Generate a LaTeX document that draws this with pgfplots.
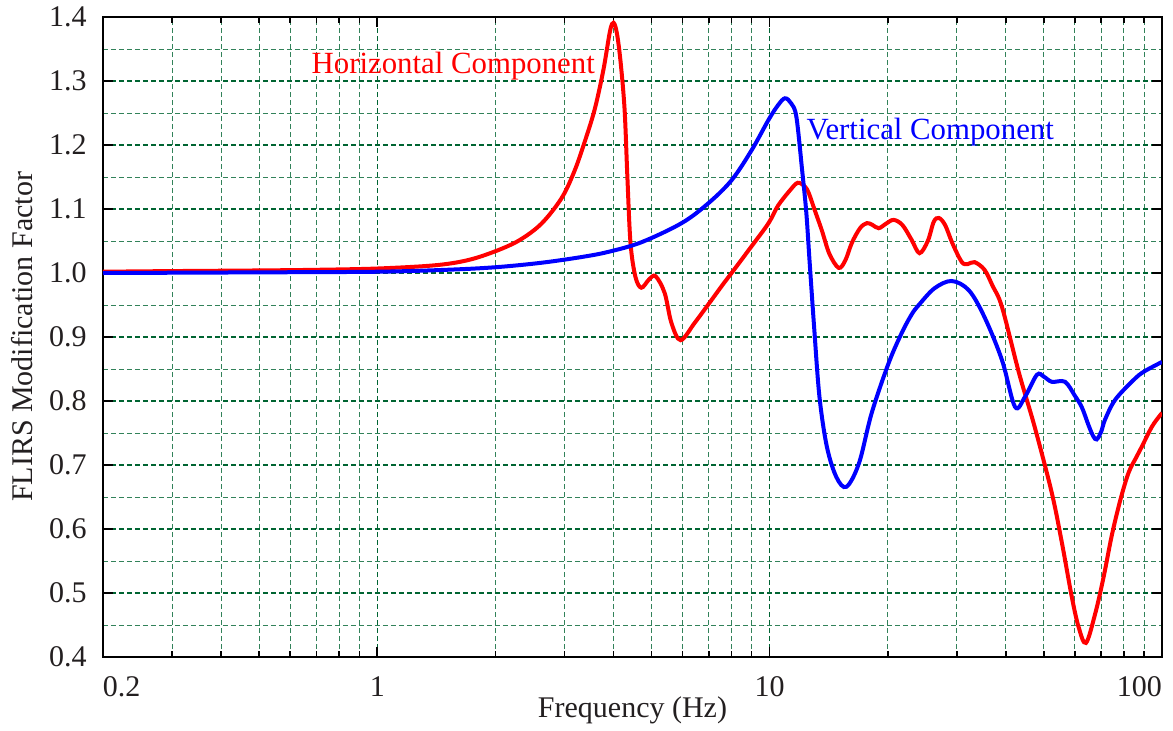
\documentclass[border=0pt]{standalone}
\usepackage{fontspec}
\setmainfont{Liberation Serif}
\usepackage{pgfplots}
\pgfplotsset{compat=1.18}
\definecolor{majgrid}{RGB}{0,100,50}
\definecolor{mingrid}{RGB}{50,130,90}
\definecolor{textcol}{RGB}{35,31,32}
\begin{document}
\fontsize{15}{18}\selectfont
\begin{tikzpicture}
\begin{semilogxaxis}[
  scale only axis, width=529.5pt, height=320pt,
  at={(0,0)}, anchor=south west,
  xmin=0.2, xmax=100, ymin=0.4, ymax=1.4,
  xtick={0.2,1,10,100},
  xticklabels={\rlap{0.2},1,10,\llap{100}},
  minor xtick={0.3,0.4,0.5,0.6,0.7,0.8,0.9,2,3,4,5,6,7,8,9,20,30,40,50,60,70,80,90},
  ytick={0.4,0.5,0.6,0.7,0.8,0.9,1.0,1.1,1.2,1.3,1.4},
  yticklabels={0.4,0.5,0.6,0.7,0.8,0.9,1.0,1.1,1.2,1.3,1.4},
  minor ytick={0.45,0.55,0.65,0.75,0.85,0.95,1.05,1.15,1.25,1.35},
  grid=both,
  major grid style={majgrid, dash pattern=on 2.5pt off 1.5pt, line width=0.6pt},
  minor grid style={mingrid, dash pattern=on 2.5pt off 1.5pt, line width=0.5pt},
  tick align=inside,
  major tick length=5pt, minor tick length=3pt,
  tick style={black, line width=0.8pt},
  minor y tick style={draw=none},
  axis line style={line width=1pt},
  yticklabel style={xshift=-3pt, text=textcol, font=\rmfamily},
  xticklabel style={anchor=base, yshift=-19.5pt, text=textcol, font=\rmfamily},
  xlabel={Frequency (Hz)},
  ylabel={FLIRS Modification Factor},
  every axis x label/.style={at={(axis description cs:0.5,0)}, yshift=-30pt, anchor=base, text=textcol},
  every axis y label/.style={at={(axis description cs:0,0.5)}, xshift=-40.5pt, rotate=90, anchor=center, text=textcol},
]
\addplot[red, line width=2pt, smooth, tension=0.55] coordinates {
(0.2,1.002) (0.3,1.003) (0.5,1.004) (0.7,1.005) (1.0,1.007) (1.4,1.012) (1.7,1.02)
(2.0,1.034) (2.3,1.051) (2.62,1.077) (2.95,1.117) (3.18,1.159) (3.37,1.203) (3.58,1.255)
(3.77,1.317) (3.92,1.378) (4.0,1.391) (4.08,1.375) (4.17,1.33) (4.27,1.255) (4.34,1.15)
(4.42,1.047) (4.55,0.994) (4.71,0.977) (4.93,0.99) (5.12,0.995) (5.40,0.969) (5.62,0.922)
(5.93,0.895) (6.44,0.922) (7.0,0.952) (7.6,0.982) (8.0,1.0) (9.0,1.042) (9.94,1.078)
(10.5,1.105) (11.3,1.13) (11.8,1.141) (12.3,1.135) (12.58,1.125) (13.0,1.10) (13.58,1.067)
(14.2,1.03) (15.0,1.008) (15.6,1.02) (16.2,1.047) (17.0,1.07) (17.7,1.078) (18.3,1.075)
(18.97,1.07) (19.8,1.077) (20.7,1.083) (21.8,1.075) (23.0,1.052) (24.1,1.031) (25.3,1.05)
(26.2,1.08) (27.0,1.086) (28.0,1.075) (29.3,1.045) (30.9,1.017) (32.0,1.014) (33.3,1.017)
(35.3,1.005) (37.0,0.98) (39.1,0.947) (43.2,0.844) (47.4,0.759) (52.4,0.656) (55.6,0.578)
(58.9,0.494) (61.3,0.447) (64.0,0.422) (67.6,0.468) (71.0,0.525) (74.5,0.59) (78.3,0.645)
(82.2,0.688) (86.0,0.712) (88.9,0.729) (94.3,0.760) (99.0,0.778) (100,0.781)
};
\addplot[blue, line width=2pt, smooth, tension=0.55] coordinates {
(0.2,1.000) (0.5,1.001) (1.0,1.002) (1.5,1.005) (2.0,1.009) (2.62,1.016) (3.32,1.025)
(3.88,1.033) (4.71,1.048) (5.97,1.078) (6.98,1.109) (8.0,1.145) (9.0,1.192) (9.93,1.239)
(10.5,1.262) (10.94,1.273) (11.35,1.265) (11.7,1.244) (12.1,1.161) (12.4,1.095) (12.65,1.016)
(13.0,0.911) (13.4,0.806) (14.0,0.728) (14.8,0.681) (15.7,0.666) (16.9,0.703) (18.2,0.781)
(20.1,0.859) (21.7,0.906) (23.0,0.935) (24.0,0.950) (26.3,0.976) (29.1,0.9875) (32.2,0.973)
(35.3,0.931) (39.1,0.864) (42.2,0.791) (44.7,0.806) (48.0,0.841) (50.0,0.838) (52.4,0.83)
(56.6,0.83) (60.0,0.808) (62.5,0.790) (65.0,0.762) (66.8,0.745) (68.2,0.740) (70.0,0.752)
(71.6,0.771) (76.0,0.802) (84.7,0.833) (90,0.846) (100,0.861)
};
\node[red, anchor=base west, inner sep=0pt, font=\fontsize{15.4}{18}\selectfont] at (axis cs:0.679,1.3125) {Horizontal Component};
\node[blue, anchor=base west, inner sep=0pt, font=\fontsize{15.4}{18}\selectfont] at (axis cs:12.4,1.208) {Vertical Component};
\end{semilogxaxis}
\pgfresetboundingbox
\path[use as bounding box] (-51.5pt,-36.5pt) rectangle (535pt,328.5pt);
\end{tikzpicture}
\end{document}
